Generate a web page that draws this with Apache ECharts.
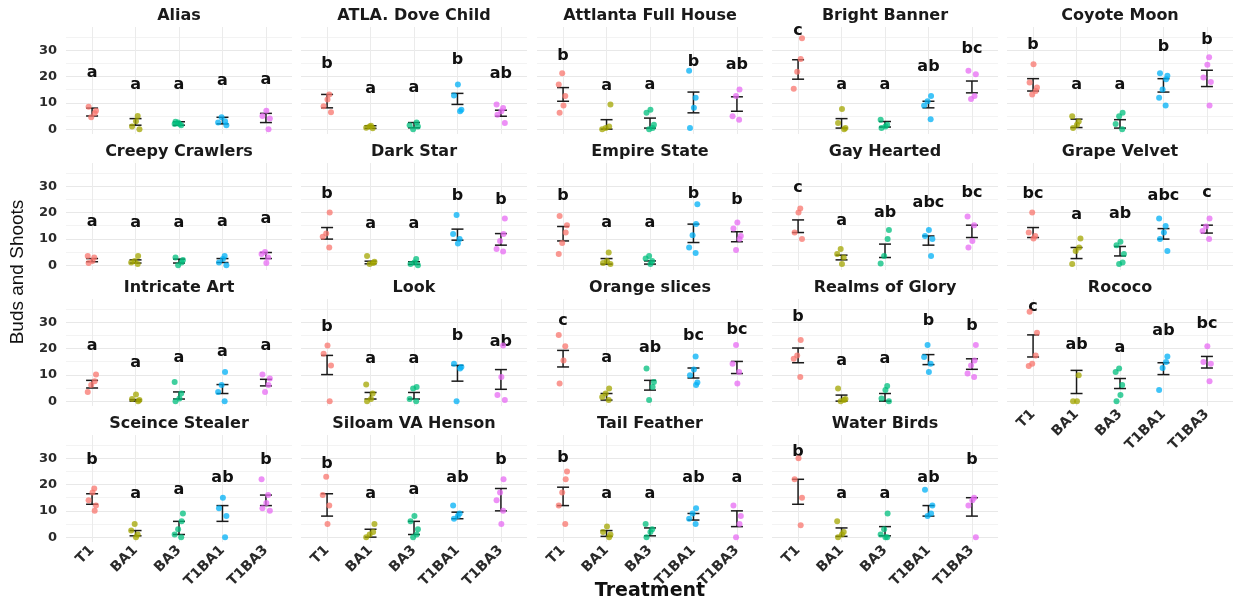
<!DOCTYPE html>
<html><head><meta charset="utf-8">
<script src="https://cdn.jsdelivr.net/npm/echarts@6/dist/echarts.min.js"></script>
<style>html,body{margin:0;padding:0;background:#fff}#c{width:1233px;height:600px}</style>
</head><body><div id="c"></div>
<script>
const treatments = ['T1','BA1','BA3','T1BA1','T1BA3'];
const cultivars = ['Alias','ATLA. Dove Child','Attlanta Full House','Bright Banner','Coyote Moon',
  'Creepy Crawlers','Dark Star','Empire State','Gay Hearted','Grape Velvet',
  'Intricate Art','Look','Orange slices','Realms of Glory','Rococo',
  'Sceince Stealer','Siloam VA Henson','Tail Feather','Water Birds'];
const yTickLabels = [0,10,20,30];
const yGridValues = [0,5,10,15,20,25,30,35];

// observed values per cultivar, per treatment
const pointValues = [
  [[8.5,7,6,4.5],[5,3,1,0],[2.5,2,1.5,2,2.8],[1.5,3,4.5,2.5],[7,5,4,0]],
  [[13.2,11.3,8.7,6.4],[1,0.5,0.3,1.3],[1,2.5,0,1.5],[17,12.8,7.4,6.8],[9.4,8,6.8,5.5,2.3]],
  [[21.3,17,12.6,9,6.2],[9.4,1,0.4,0],[7.4,6.2,1.7,0.4,0],[22.2,11.9,8.1,0.4],[15.1,12.6,4.9,3.6]],
  [[34.6,26.7,21.8,15.4],[7.7,2.3,0.4,0],[3.6,1.7,1,0.4],[12.6,10.6,9,3.8],[22.2,20.9,12.6,11.5]],
  [[24.7,17.7,15.8,14.5,13.2],[4.9,2.9,1.7,0.4],[6.2,4.9,2,0],[21.3,20.3,19,15.1,11.9,9],[27.3,24.5,19.6,17.9,9]],
  [[3.5,2.9,1.6,0.8],[3.5,1.6,1,0.4],[2.9,2,1,0],[3.5,2.3,1,0],[5,4.2,2.9,0.8]],
  [[20,12,10.8,6.7],[3.5,1.3,0.8,0.4],[2.3,1,0.4,0],[19.1,11.8,9.9,8.2],[17.7,11.8,9.2,6.1,5.2]],
  [[18.7,15.2,12.4,8.4,4.2],[4.8,1.6,0.8,0.4],[3.5,2.5,1.6,0.4],[23.2,15.6,11.4,6.7,4.6],[16.2,13.9,11.1,9.9,5.8]],
  [[21.5,20,12.4,9.9],[6.1,4.2,2.9,0.4],[13.4,9.9,3.5,0.6],[13.4,11.1,9.9,3.5],[18.5,15.2,9.2,6.7]],
  [[20,12.4,11.1,10.1],[10.1,6.7,5.4,0.4],[8.9,7.6,4.2,1,0.4],[17.7,14.9,12.4,9.9,5.4],[17.7,14.7,13,9.9]],
  [[10.1,7.6,6.1,3.5],[2.5,0.8,0.4,0],[7.3,2.9,1,0],[11.1,6.1,3.5,0],[10.1,8.6,6.1,3.5]],
  [[21.2,18,13.6,0],[6.3,2.9,0.8,0],[5.4,4.8,0.8,0],[14.2,13,12.4,0],[21.2,9.2,2.3,0.4]],
  [[25.2,20.9,15.5,6.7],[4.8,2.9,1.6,0.4],[12.4,7.3,5.4,0.4],[17,12,9.8,7.1,6.1],[21.4,14.2,11.1,6.7]],
  [[23.3,17.4,16.1,9.2],[4.8,0.8,0.4,0],[5.8,4.2,1,0],[21.4,16.8,14.2,11.1],[21.4,15.5,13.6,10.5,9.2]],
  [[34,26,17.4,14.2,13.4],[9.8,0,0],[12.4,11.1,6.1,2.3,0],[17,14.9,12.6,4.2],[20.9,14.9,14.2,7.6]],
  [[18.5,17,14,12,10],[5,2.5,1,0],[9,6,3,1,0],[15,11,8,0],[22,16,13,11,10]],
  [[23,16,12,5],[5,2,1,0],[8,6,3,1,0],[12,9,8,7],[22,17,14,10,5]],
  [[25,22,17,12,5],[4,2,1,0],[5,3,2,0],[11,9,7,5],[12,8,5,0]],
  [[30,22,15,4.5],[6,2,1,0],[9,3,1,0,0],[18,12,9,8],[15,14,12,0]]
];
const errLow = [
  [5,1.5,1.5,2,2.5],[8.1,0.3,0.5,9.4,4.9],[10.6,0,0.4,6.2,6.8],[19,0.4,0.8,8.1,13.8],[14.5,0.6,0.4,14.1,16.2],
  [1.3,0.8,0.8,1,2.5],[9.9,0.5,0.3,9.5,7.6],[9.2,0.4,0.4,8.6,8.9],[12.4,2,2.9,7.6,10.5],[10.5,2.5,3.5,9.9,12.2],
  [5,0,0.8,2.9,5.8],[10.1,0.8,0.8,7.6,4.5],[13,0.4,4.2,8.8,10.5],[14.6,0,0,13.9,12.1],[16.8,2.9,4.8,10.1,12.6],
  [12.5,0.5,1,6,12],[8,0,1,7,10],[12,0.3,0.5,6.5,4],[12.5,0.3,0.5,8,8]
];
const errHigh = [
  [8,4,2.8,4.5,6],[13.2,1.3,2.5,13.6,7.2],[15.8,3.6,4.2,14.1,12.3],[26.4,4,2.9,10.6,18.3],[19.2,3.8,3.6,19.2,22.4],
  [2.5,2,2.3,2.5,4.8],[14.3,1.5,1.3,13.7,12],[14.7,2.5,1.6,15.6,12.7],[17.2,3.8,8,11.1,15.2],[14.3,6.7,7.1,13.9,15.2],
  [7.9,0.6,3.5,6.3,8.3],[17.4,3.3,3.3,13.6,12],[19.3,2.9,7.9,12.6,15.1],[20.2,2.3,2.9,17.7,16.1],[25.2,11.7,8.6,14.6,17],
  [16.5,2.5,6,12,16],[16.5,3,6,9.5,18.5],[19,2.5,3.5,9,10],[22,3.5,4,12,15]
];
const letters = [
  ['a','a','a','a','a'],['b','a','a','b','ab'],['b','a','a','b','ab'],['c','a','a','ab','bc'],['b','a','a','b','b'],
  ['a','a','a','a','a'],['b','a','a','b','b'],['b','a','a','b','b'],['c','a','ab','abc','bc'],['bc','a','ab','abc','c'],
  ['a','a','a','a','a'],['b','a','a','b','ab'],['c','a','ab','bc','bc'],['b','a','a','b','b'],['c','ab','a','ab','bc'],
  ['b','a','a','ab','b'],['b','a','a','ab','b'],['b','a','a','ab','a'],['b','a','a','ab','b']
];
const letterY = [
  [21.3,17,17,18.3,18.7],[24.7,15.4,15.8,26.3,20.9],[28,16.4,17,25.6,24.4],[37.3,17,17,23.7,30.5],[32,16.7,16.7,31.2,34],
  [16.5,16.2,16.2,16.5,17.7],[27,15.6,15.6,26.3,24.7],[26.3,16.2,16.2,27,25],[29.5,16.8,20,23.8,27.6],[27,19,19.7,26.3,27.6],
  [21.2,14.6,16.4,18.9,21.2],[28.1,16.1,16.1,25,22.4],[30.6,16.4,20.2,25,27.2],[31.9,15.5,16.1,30.6,28.8],[35.7,21.4,20.2,26.9,29.4],
  [29.3,16.3,17.9,22.4,29.3],[27.8,16.3,17.9,22.4,29.3],[30,16.3,16.3,22.4,22.4],[32.3,16.3,16.3,22.4,29.3]
];

const treatmentColors = ['#F8766D','#A3A500','#00BF7D','#00B0F6','#E76BF3'];
const jitterPattern = [-0.08,0.05,-0.02,0.09,0.01,-0.1,0.06];
const colLeft = [66,301,537,772,1007];
const rowTop = [27,163,299,435];
const panelW = 226, panelH = 107;
const FONT = '"DejaVu Sans", sans-serif';

const grids = [], xAxes = [], yAxes = [], series = [], graphics = [];
cultivars.forEach((name, i) => {
  const row = Math.floor(i / 5), col = i % 5;
  const showX = (row === 3) || (row === 2 && col === 4);
  grids.push({left: colLeft[col], top: rowTop[row], width: panelW, height: panelH});
  xAxes.push({
    gridIndex: i, type: 'value', min: -0.6, max: 4.6,
    axisLine: {show: false},
    axisTick: {show: false, customValues: [0,1,2,3,4]},
    splitLine: {show: true, lineStyle: {color: '#ebebeb', width: 1}},
    axisLabel: {show: showX, customValues: [0,1,2,3,4], formatter: v => treatments[Math.round(v)],
      rotate: 45, margin: 6, fontFamily: FONT, fontWeight: 'bold', fontSize: 14, color: '#2a2a2a'}
  });
  yAxes.push({
    gridIndex: i, type: 'value', min: -1.85, max: 38.85,
    axisLine: {show: false},
    axisTick: {show: false, customValues: yGridValues},
    splitLine: {show: true, lineStyle: {color: ['#e8e8e8','#f3f3f3'], width: 1}},
    axisLabel: {show: col === 0, customValues: yTickLabels, margin: 9,
      fontFamily: FONT, fontWeight: 'bold', fontSize: 13, color: '#2a2a2a'}
  });
  const pts = [];
  pointValues[i].forEach((vals, t) => {
    vals.forEach((v, k) => pts.push([t + jitterPattern[(k * 3 + t + i) % jitterPattern.length], v, t]));
  });
  series.push({
    type: 'scatter', xAxisIndex: i, yAxisIndex: i, data: pts, symbolSize: 6, silent: true,
    itemStyle: {opacity: 0.75, color: p => treatmentColors[p.data[2]]}
  });
  series.push({
    type: 'custom', xAxisIndex: i, yAxisIndex: i, silent: true,
    data: treatments.map((t, j) => [j, errLow[i][j], errHigh[i][j]]),
    renderItem: (params, api) => {
      const lo = api.coord([api.value(0), api.value(1)]);
      const hi = api.coord([api.value(0), api.value(2)]);
      const w = 6, st = {stroke: '#1a1a1a', lineWidth: 1.5};
      return {type: 'group', children: [
        {type: 'line', shape: {x1: lo[0], y1: lo[1], x2: hi[0], y2: hi[1]}, style: st},
        {type: 'line', shape: {x1: lo[0]-w, y1: lo[1], x2: lo[0]+w, y2: lo[1]}, style: st},
        {type: 'line', shape: {x1: hi[0]-w, y1: hi[1], x2: hi[0]+w, y2: hi[1]}, style: st}
      ]};
    }
  });
  series.push({
    type: 'custom', xAxisIndex: i, yAxisIndex: i, silent: true,
    data: treatments.map((t, j) => [j, letterY[i][j], letters[i][j]]),
    renderItem: (params, api) => {
      const p = api.coord([api.value(0), api.value(1)]);
      return {type: 'text', x: p[0], y: p[1], style: {
        text: letters[i][params.dataIndex], fill: '#111', align: 'center', verticalAlign: 'middle',
        fontFamily: FONT, fontWeight: 'bold', fontSize: 16}};
    }
  });
  graphics.push({type: 'text', x: colLeft[col] + panelW / 2, y: rowTop[row] - 11, style: {
    text: name, fill: '#1a1a1a', align: 'center', verticalAlign: 'middle',
    fontFamily: FONT, fontWeight: 'bold', fontSize: 16}});
});
graphics.push({type: 'text', x: 18, y: 272, rotation: Math.PI / 2, style: {
  text: 'Buds and Shoots', fill: '#111', align: 'center', verticalAlign: 'middle',
  fontFamily: '"Liberation Sans", Arial, sans-serif', fontSize: 19}});
graphics.push({type: 'text', x: 650, y: 591, style: {
  text: 'Treatment', fill: '#111', align: 'center', verticalAlign: 'middle',
  fontFamily: FONT, fontWeight: 'bold', fontSize: 19}});

const chart = echarts.init(document.getElementById('c'), null, {renderer: 'canvas'});
chart.setOption({
  backgroundColor: '#fff', animation: false,
  grid: grids, xAxis: xAxes, yAxis: yAxes, series: series, graphic: graphics
});
</script></body></html>
